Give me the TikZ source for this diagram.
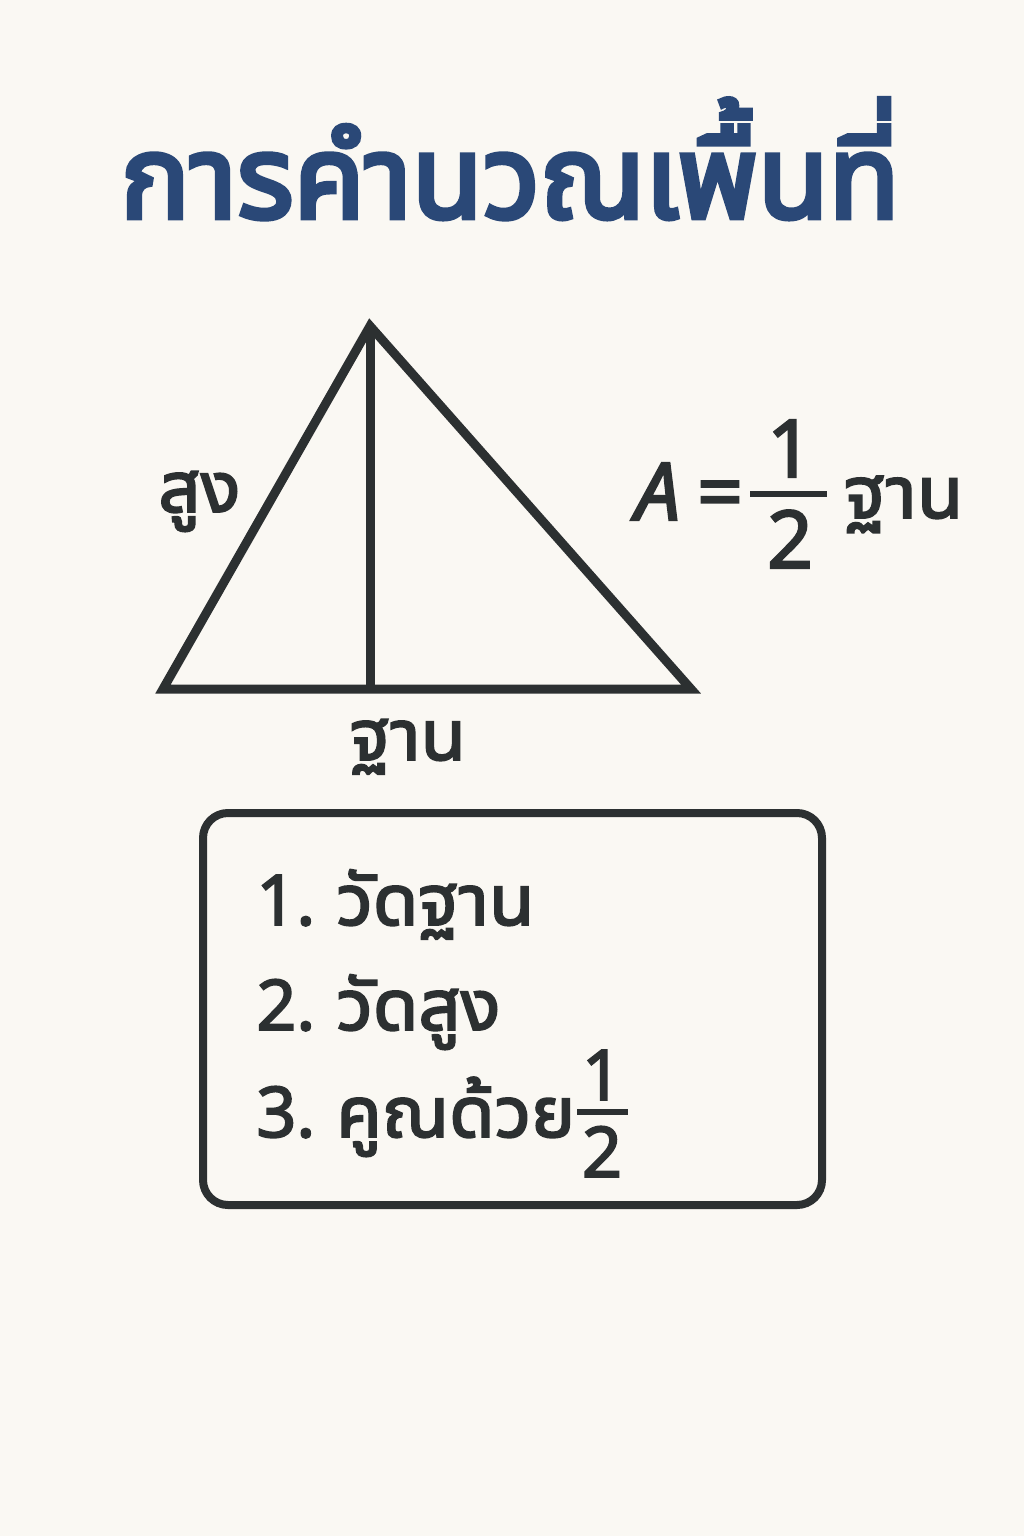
\documentclass[tikz,border=0pt]{standalone}
\usepackage{fontspec}
\setmainfont{Noto Sans}
\newfontfamily\thai[Script=Thai,FakeBold=2.6]{Noto Sans Thai UI}
\newfontfamily\thaititle[Script=Thai,FakeBold=4,FakeStretch=0.95]{Noto Sans Thai UI}
\newfontfamily\latinmed[FakeBold=2.6]{Noto Sans}
\definecolor{bgc}{HTML}{FAF8F3}
\definecolor{ink}{HTML}{2C3031}
\definecolor{navy}{HTML}{2A4877}
\tikzset{
  titletext/.style={text=navy, font=\thaititle\fontsize{61pt}{70pt}\selectfont, inner sep=0pt},
  lbl/.style={text=ink, font=\thai\fontsize{37pt}{44pt}\selectfont, inner sep=0pt},
  num/.style={text=ink, font=\latinmed\fontsize{35pt}{42pt}\selectfont, inner sep=0pt},
  fnum/.style={text=ink, font=\latinmed\fontsize{40pt}{48pt}\selectfont, inner sep=0pt},
  tri/.style={draw=ink, line width=4.5pt, line join=miter},
  barline/.style={draw=ink, line width=2.6pt},
  stepsbox/.style={draw=ink, line width=4pt, rounded corners=12.5pt}
}
\begin{document}
\begin{tikzpicture}[x=0.5pt,y=-0.5pt]
\fill[bgc] (0,0) rectangle (1024,1536);
\useasboundingbox (0,0) rectangle (1024,1536);
% title
\node[titletext, anchor=base] (title) at (510,218) {การคำนวณเพื้นที่};
% triangle
\coordinate (apex) at (370,326);
\coordinate (bl) at (163,689);
\coordinate (br) at (691,689);
\coordinate (foot) at (370,689);
\draw[tri] (apex) -- (bl) -- (br) -- cycle;
\draw[tri] (apex) -- (foot);
\node[lbl, anchor=base west] (hlabel) at (158,512) {สูง};
\node[lbl, anchor=base] (blabel) at (408,760) {ฐาน};
% formula
\node[fnum, anchor=base west] (fa) at (635,520) {\itshape A};
\node[fnum, anchor=base] (feq) at (720,520) {=};
\coordinate (fb1) at (750,494);
\coordinate (fb2) at (827,494);
\draw[barline] (fb1) -- (fb2);
\node[fnum, anchor=base] (fone) at (790,477) {1};
\node[fnum, anchor=base] (ftwo) at (790,568) {2};
\node[lbl, anchor=base west, font=\thai\fontsize{38pt}{46pt}\selectfont] (fbase) at (844,518) {ฐาน};
% steps box
\draw[stepsbox] (203,813) rectangle (822,1205);
\node[num, anchor=base west] (n1) at (256,925) {1.};
\node[lbl, anchor=base west] (s1) at (336,925) {วัดฐาน};
\node[num, anchor=base west] (n2) at (256,1030) {2.};
\node[lbl, anchor=base west] (s2) at (336,1030) {วัดสูง};
\node[num, anchor=base west] (n3) at (256,1137) {3.};
\node[lbl, anchor=base west] (s3) at (336,1137) {คูณด้วย};
\coordinate (sb1) at (577,1112);
\coordinate (sb2) at (628,1112);
\draw[barline] (sb1) -- (sb2);
\node[num, anchor=base] (sone) at (602,1100) {1};
\node[num, anchor=base] (stwo) at (602,1177) {2};
\end{tikzpicture}
\end{document}
